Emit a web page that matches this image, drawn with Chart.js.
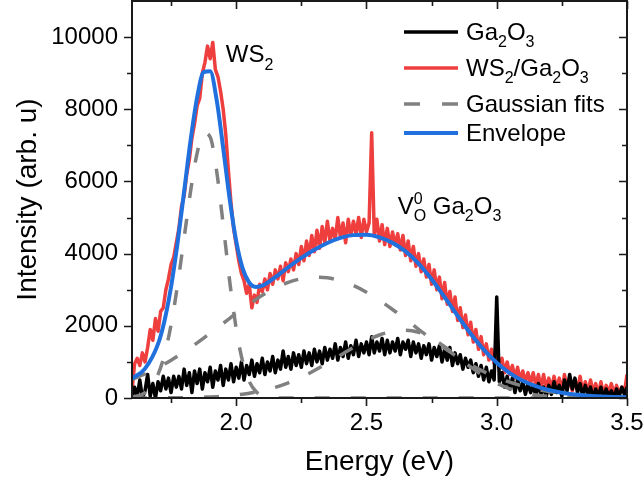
<!DOCTYPE html>
<html>
<head>
<meta charset="utf-8">
<script src="https://cdn.jsdelivr.net/npm/chart.js@4.4.1/dist/chart.umd.min.js"></script>
<style>
html,body{margin:0;padding:0;background:#fff;}
canvas{display:block;}
</style>
</head>
<body>
<canvas id="c" width="644" height="488"></canvas>
<script>
// ---------------- DATA ----------------
const specEnergy = [
1.60,1.61,1.62,1.63,1.64,1.65,1.66,1.67,1.68,1.69,
1.70,1.71,1.72,1.73,1.74,1.75,1.76,1.77,1.78,1.79,
1.80,1.81,1.82,1.83,1.84,1.85,1.86,1.87,1.88,1.89,
1.90,1.91,1.92,1.93,1.94,1.95,1.96,1.97,1.98,1.99,
2.00,2.01,2.02,2.03,2.04,2.05,2.06,2.07,2.08,2.09,
2.10,2.11,2.12,2.13,2.14,2.15,2.16,2.17,2.18,2.19,
2.20,2.21,2.22,2.23,2.24,2.25,2.26,2.27,2.28,2.29,
2.30,2.31,2.32,2.33,2.34,2.35,2.36,2.37,2.38,2.39,
2.40,2.41,2.42,2.43,2.44,2.45,2.46,2.47,2.48,2.49,
2.50,2.51,2.52,2.53,2.54,2.55,2.56,2.57,2.58,2.59,
2.60,2.61,2.62,2.63,2.64,2.65,2.66,2.67,2.68,2.69,
2.70,2.71,2.72,2.73,2.74,2.75,2.76,2.77,2.78,2.79,
2.80,2.81,2.82,2.83,2.84,2.85,2.86,2.87,2.88,2.89,
2.90,2.91,2.92,2.93,2.94,2.95,2.96,2.97,2.98,2.99,
3.00,3.01,3.02,3.03,3.04,3.05,3.06,3.07,3.08,3.09,
3.10,3.11,3.12,3.13,3.14,3.15,3.16,3.17,3.18,3.19,
3.20,3.21,3.22,3.23,3.24,3.25,3.26,3.27,3.28,3.29,
3.30,3.31,3.32,3.33,3.34,3.35,3.36,3.37,3.38,3.39,
3.40,3.41,3.42,3.43,3.44,3.45,3.46,3.47,3.48,3.49,
3.50];

const ws2Ga2o3 = [
200,950,1100,900,1250,1000,1400,1900,1600,2200,
1850,2400,2500,3000,3300,3700,3900,4300,4700,5300,
5600,6200,6600,7200,7600,8100,8300,9000,9300,9750,
9400,9850,9100,8900,8500,8000,7300,6300,5400,4700,
4250,3800,3450,3250,2900,3150,2500,2850,2650,3150,
2950,3300,3000,3450,3150,3550,3300,3650,3250,3750,
3500,3850,3550,4000,3700,4200,3800,4350,3950,4500,
4050,4650,4150,4750,4300,4900,4350,4700,4400,5000,
4450,4850,4300,4950,4500,4900,4550,5000,4450,4950,
4600,4850,7350,4500,4950,4350,4800,4250,4700,4200,
4600,4250,4550,4100,4500,3950,4350,3800,4200,3650,
4000,3500,3850,3350,3700,3150,3550,3000,3350,2750,
3200,2600,2950,2400,2800,2150,2500,1950,2300,1750,
2100,1550,1900,1350,1700,1200,1500,1050,1350,950,
1200,800,1100,700,1000,650,900,550,850,500,
750,450,700,400,700,350,650,300,650,250,
550,250,600,250,550,200,650,250,550,200,
500,250,600,150,450,150,500,150,400,100,
450,100,350,150,400,100,350,100,300,150,
650];

const ga2o3 = [
0,300,50,500,0,200,650,50,400,0,
450,200,600,250,550,150,600,300,600,250,
800,350,700,150,750,400,800,250,700,450,
850,300,750,500,900,350,800,500,950,450,
850,550,1000,500,900,650,1050,600,950,700,
1100,650,1000,750,1150,700,1050,800,1300,850,
1150,800,1250,900,1200,850,1300,950,1250,900,
1350,1000,1300,950,1400,1050,1350,1100,1500,1050,
1400,1150,1550,1100,1450,1200,1600,1150,1500,1250,
1550,1200,1700,1250,1550,1300,1650,1200,1600,1250,
1550,1300,1650,1200,1550,1350,1600,1150,1550,1250,
1500,1100,1450,1200,1500,1050,1400,1150,1450,1000,
1350,1050,1400,900,1250,950,1200,800,1100,850,
1050,700,950,600,900,500,850,450,750,500,
2800,450,700,300,600,250,550,150,500,200,
450,100,400,150,350,50,400,100,300,50,
350,100,450,150,350,50,500,200,650,250,
550,150,400,50,350,100,300,0,250,50,
300,0,250,50,200,0,250,50,300,100,
300];

const fitEnergy = [1.60,1.65,1.70,1.725,1.75,1.775,1.80,1.825,1.85,1.875,1.90,1.925,1.95,1.975,2.00,2.025,2.05,2.075,2.10,2.15,2.20,2.25,2.30,2.35,2.40,2.45,2.50,2.55,2.60,2.65,2.70,2.75,2.80,2.85,2.90,2.95,3.00,3.05,3.10,3.15,3.20,3.25,3.30,3.35,3.40,3.45,3.50];
const gauss1 = [23,148,655,1206,2032,3138,4435,5733,6785,7348,7232,6285,4809,3236,1920,1001,460,186,66,6,0,0,0,0,0,0,0,0,0,0,0,0,0,0,0,0,0,0,0,0,0,0,0,0,0,0,0];
const gauss2 = [515,665,842,940,1046,1158,1275,1399,1527,1659,1795,1933,2070,2208,2345,2478,2607,2729,2845,3046,3203,3305,3349,3330,3251,3115,2930,2705,2452,2181,1904,1633,1374,1135,920,732,570,438,330,244,177,126,88,60,41,27,17];
const gauss3 = [0,1,2,3,5,7,9,13,17,23,29,38,50,65,83,105,131,163,201,296,420,576,760,966,1184,1398,1592,1746,1846,1880,1822,1659,1419,1140,861,610,407,254,150,83,43,21,9,4,2,1,0];
const envelope = [538,813,1499,2149,3083,4303,5719,7145,8329,9030,9056,8256,6929,5509,4348,3584,3198,3078,3112,3348,3623,3881,4109,4296,4435,4513,4522,4451,4298,4061,3726,3292,2793,2275,1781,1342,977,692,480,327,220,147,97,64,43,28,17];

const xTickValues = [2.0, 2.5, 3.0, 3.5];
const xMinorValues = [1.75, 2.25, 2.75, 3.25];
const yTickValues = [0, 2000, 4000, 6000, 8000, 10000];
const yMinorValues = [1000, 3000, 5000, 7000, 9000];
const legendLabels = ['Ga_{2}O_{3}', 'WS_{2}/Ga_{2}O_{3}', 'Gaussian fits', 'Envelope'];
const annotations = [
  {text: 'WS_{2}', e: 1.96, v: 9300},
  {text: 'V_{O}^{0} Ga_{2}O_{3}', e: 2.62, v: 5100}
];
const xTitle = 'Energy (eV)';
const yTitle = 'Intensity (arb. u)';

// ---------------- STYLE ----------------
const RED = 'rgb(239,62,62)';
const BLUE = 'rgb(32,112,222)';
const GRAY = 'rgb(128,128,128)';
const BLACK = '#000';
const FONT = "'Liberation Sans', Arial, sans-serif";

function pts(xs, ys) { return xs.map((x, i) => ({x: x, y: ys[i]})); }

const datasets = [
  {label: 'Envelope', data: pts(fitEnergy, envelope), borderColor: BLUE, borderWidth: 4, cubicInterpolationMode: 'monotone', order: 0},
  {label: 'Gaussian fits', data: pts(fitEnergy, gauss1), borderColor: GRAY, borderWidth: 3.5, borderDash: [15, 21], cubicInterpolationMode: 'monotone', order: 1},
  {label: 'Gaussian fits', data: pts(fitEnergy, gauss2), borderColor: GRAY, borderWidth: 3.5, borderDash: [15, 21], cubicInterpolationMode: 'monotone', order: 1},
  {label: 'Gaussian fits', data: pts(fitEnergy, gauss3), borderColor: GRAY, borderWidth: 3.5, borderDash: [15, 21], cubicInterpolationMode: 'monotone', order: 1},
  {label: 'Ga2O3', data: pts(specEnergy, ga2o3), borderColor: BLACK, borderWidth: 3.5, tension: 0, order: 2},
  {label: 'WS2/Ga2O3', data: pts(specEnergy, ws2Ga2o3), borderColor: RED, borderWidth: 3.5, tension: 0, order: 3}
];
datasets.forEach(d => { d.pointRadius = 0; d.fill = false; d.borderJoinStyle = 'round'; d.borderCapStyle = 'butt'; });

const legendStyles = [
  {color: BLACK, width: 3.5, dash: []},
  {color: RED, width: 3.5, dash: []},
  {color: GRAY, width: 3.5, dash: [16, 22]},
  {color: BLUE, width: 4, dash: []}
];

// rich text with _{sub} and ^{sup}
function parseRich(s) {
  const parts = [];
  const re = /(_\{[^}]*\}|\^\{[^}]*\})/g;
  let last = 0, m;
  while ((m = re.exec(s)) !== null) {
    if (m.index > last) parts.push({t: s.slice(last, m.index), k: 'n'});
    parts.push({t: m[0].slice(2, -1), k: m[0][0] === '_' ? 'sub' : 'sup'});
    last = re.lastIndex;
  }
  if (last < s.length) parts.push({t: s.slice(last), k: 'n'});
  return parts;
}
function drawRich(ctx, s, x, y, size) {
  const parts = parseRich(s);
  const small = Math.round(size * 0.66);
  ctx.textAlign = 'left';
  ctx.textBaseline = 'alphabetic';
  let i = 0;
  while (i < parts.length) {
    const p = parts[i];
    if (p.k === 'n') {
      ctx.font = size + 'px ' + FONT;
      ctx.fillText(p.t, x, y);
      x += ctx.measureText(p.t).width;
      i++;
    } else {
      ctx.font = small + 'px ' + FONT;
      let w = 0;
      const group = [p];
      if (i + 1 < parts.length && parts[i + 1].k !== 'n' && parts[i + 1].k !== p.k) group.push(parts[i + 1]);
      group.forEach(g => {
        const dy = g.k === 'sub' ? size * 0.3 : -size * 0.42;
        ctx.fillText(g.t, x, y + dy);
        w = Math.max(w, ctx.measureText(g.t).width);
      });
      x += w;
      i += group.length;
    }
  }
}

const framePlugin = {
  id: 'frame',
  afterDatasetsDraw(chart) {
    const ctx = chart.ctx;
    const a = chart.chartArea;
    const xs = chart.scales.x, ys = chart.scales.y;
    ctx.save();
    ctx.strokeStyle = '#1a1a1a';
    ctx.lineWidth = 2;
    ctx.setLineDash([]);
    ctx.strokeRect(a.left, a.top, a.right - a.left, a.bottom - a.top);
    ctx.lineWidth = 1.6;
    ctx.beginPath();
    const xt = (v, len) => {
      const px = Math.round(xs.getPixelForValue(v)) + 0.5;
      ctx.moveTo(px, a.bottom); ctx.lineTo(px, a.bottom + len);
      ctx.moveTo(px, a.top); ctx.lineTo(px, a.top + len);
    };
    const yt = (v, len) => {
      const py = Math.round(ys.getPixelForValue(v)) + 0.5;
      ctx.moveTo(a.left, py); ctx.lineTo(a.left - len, py);
      ctx.moveTo(a.right, py); ctx.lineTo(a.right - len, py);
    };
    xTickValues.forEach(v => xt(v, 8));
    xMinorValues.forEach(v => xt(v, 5));
    yTickValues.forEach(v => yt(v, 8));
    yMinorValues.forEach(v => yt(v, 5));
    ctx.stroke();
    ctx.restore();
  },
  afterDraw(chart) {
    const ctx = chart.ctx;
    const xs = chart.scales.x, ys = chart.scales.y;
    ctx.save();
    ctx.fillStyle = '#000';
    // legend
    const rowsLine = [32, 68, 104, 133];
    const rowsText = [40, 76, 112, 141];
    legendLabels.forEach((lab, i) => {
      const st = legendStyles[i];
      ctx.beginPath();
      ctx.strokeStyle = st.color;
      ctx.lineWidth = st.width;
      ctx.setLineDash(st.dash);
      ctx.moveTo(404, rowsLine[i]);
      ctx.lineTo(458, rowsLine[i]);
      ctx.stroke();
      ctx.setLineDash([]);
      drawRich(ctx, lab, 466, rowsText[i], 24);
    });
    // annotations
    annotations.forEach(an => {
      drawRich(ctx, an.text, xs.getPixelForValue(an.e), ys.getPixelForValue(an.v), 24);
    });
    ctx.restore();
  }
};

new Chart(document.getElementById('c'), {
  type: 'line',
  data: {datasets: datasets},
  plugins: [framePlugin],
  options: {
    responsive: false,
    devicePixelRatio: 1,
    animation: false,
    events: [],
    layout: {padding: {left: 0, right: 17, top: 1, bottom: 0}},
    plugins: {legend: {display: false}, tooltip: {enabled: false}},
    scales: {
      x: {
        type: 'linear', min: 1.6, max: 3.5,
        afterBuildTicks: s => { s.ticks = xTickValues.map(v => ({value: v})); },
        afterFit: s => { s.height = 90; s.paddingLeft = 0; s.paddingRight = 0; },
        grid: {display: false, drawTicks: false},
        border: {display: false},
        ticks: {color: '#000', font: {family: FONT, size: 24}, padding: 11, maxRotation: 0, autoSkip: false,
                callback: v => Number(v).toFixed(1)},
        title: {display: true, text: xTitle, color: '#000', font: {family: FONT, size: 28}, padding: {top: 0, bottom: 9}}
      },
      y: {
        type: 'linear', min: 0, max: 11000,
        afterBuildTicks: s => { s.ticks = yTickValues.map(v => ({value: v})); },
        afterFit: s => { s.width = 132; s.paddingTop = 0; s.paddingBottom = 0; },
        grid: {display: false, drawTicks: false},
        border: {display: false},
        ticks: {color: '#000', font: {family: FONT, size: 24}, padding: 14, autoSkip: false,
                callback: v => String(v)},
        title: {display: true, text: yTitle, color: '#000', font: {family: FONT, size: 28}, padding: {top: 11, bottom: 0}}
      }
    }
  }
});
</script>
</body>
</html>
